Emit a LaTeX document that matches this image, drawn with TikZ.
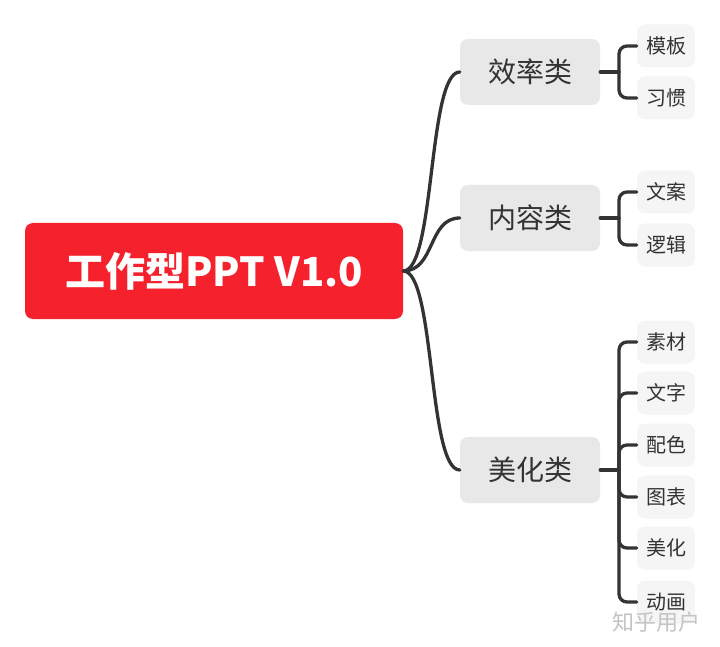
\documentclass[tikz,border=0pt]{standalone}
\usepackage{fontspec}
\setmainfont{Noto Sans CJK SC}
\definecolor{rootred}{HTML}{F5222D}
\definecolor{catgray}{HTML}{E8E8E8}
\definecolor{leafgray}{HTML}{F5F5F5}
\definecolor{ink}{HTML}{333333}
\definecolor{wmark}{HTML}{C4C4C4}
\begin{document}
\begin{tikzpicture}[x=1pt,y=-1pt,
  rootbox/.style={fill=rootred, rounded corners=8pt, minimum width=378pt, minimum height=96pt, inner sep=0pt, text=white, font=\fontsize{40}{42}\selectfont\bfseries},
  catbox/.style={fill=catgray, rounded corners=8pt, minimum width=140pt, minimum height=66pt, inner sep=0pt, text=ink, font=\fontsize{28}{30}\selectfont},
  leafbox/.style={fill=leafgray, rounded corners=8pt, minimum width=58pt, minimum height=43pt, inner sep=0pt, text=ink, font=\fontsize{20}{22}\selectfont},
  conn/.style={draw=ink, line width=3.3pt, line cap=round},
  brace/.style={conn, rounded corners=8pt}]
\useasboundingbox (0,0) rectangle (720,647);
\fill[white] (0,0) rectangle (720,647);
\node[rootbox] (root) at (214,271) {工作型PPT V1.0};
\node[catbox] (a) at (530,72) {效率类};
\node[catbox] (b) at (530,218) {内容类};
\node[catbox] (c) at (530,470) {美化类};
\node[leafbox] (a1) at (666,46) {模板};
\node[leafbox] (a2) at (666,98) {习惯};
\node[leafbox] (b1) at (666,192) {文案};
\node[leafbox] (b2) at (666,245) {逻辑};
\node[leafbox] (c1) at (666,342) {素材};
\node[leafbox] (c2) at (666,393) {文字};
\node[leafbox] (c3) at (666,445) {配色};
\node[leafbox] (c4) at (666,497) {图表};
\node[leafbox] (c5) at (666,548) {美化};
\node[leafbox] (c6) at (666,602) {动画};
\node[text=wmark, font=\fontsize{22}{24}\selectfont] (wm) at (656,622) {知乎用户};
% root connectors
\draw[conn] (root.east) .. controls +(32,0) and +(-32,0) .. (a.west);
\draw[conn] (root.east) .. controls +(32,0) and +(-32,0) .. (b.west);
\draw[conn] (root.east) .. controls +(32,0) and +(-32,0) .. (c.west);
% braces
\coordinate (ja) at (619,72);
\coordinate (jb) at (619,218);
\coordinate (jc) at (619,470);
\draw[conn] (a.east) -- (ja);
\draw[conn] (b.east) -- (jb);
\draw[conn] (c.east) -- (jc);
\foreach \l in {a1,a2} \draw[brace] (ja) |- (\l.west);
\foreach \l in {b1,b2} \draw[brace] (jb) |- (\l.west);
\foreach \l in {c1,c2,c3,c4,c5,c6} \draw[brace] (jc) |- (\l.west);
\end{tikzpicture}
\end{document}
